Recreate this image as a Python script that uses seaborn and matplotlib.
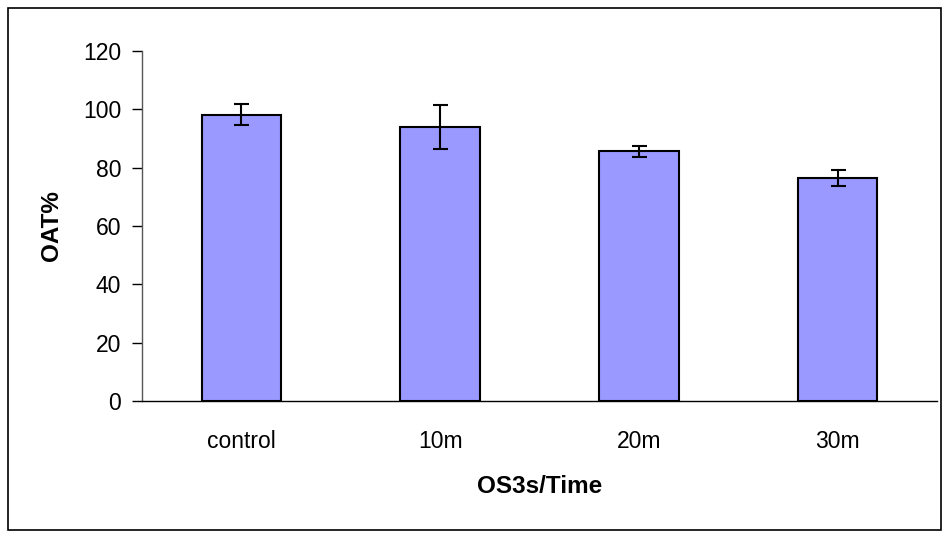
import matplotlib
matplotlib.use("Agg")
import matplotlib.pyplot as plt
import seaborn as sns
import pandas as pd
from matplotlib.patches import Rectangle

categories = ["control", "10m", "20m", "30m"]
values = [98.2, 93.9, 85.6, 76.5]
errors = [3.6, 7.5, 1.8, 2.8]
yticks = [0, 20, 40, 60, 80, 100, 120]

sns.set_style("white")
plt.rcParams['font.family'] = ['Liberation Sans', 'DejaVu Sans']
plt.rcParams['text.color'] = 'black'
plt.rcParams['axes.labelcolor'] = 'black'
plt.rcParams['xtick.color'] = 'black'
plt.rcParams['ytick.color'] = 'black'

df = pd.DataFrame({"cat": categories, "val": values, "err": errors})

fig = plt.figure(figsize=(9.44, 5.37), dpi=100)
ax = fig.add_axes([142/944, 1 - 401/537, (937-142)/944, (401-51)/537])

sns.barplot(data=df, x="cat", y="val", order=categories, color="#9999FF",
            saturation=1, width=0.4, edgecolor="black", linewidth=1.5,
            errorbar=None, ax=ax)
ax.errorbar(range(len(categories)), df["val"], yerr=df["err"], fmt="none",
            ecolor="black", elinewidth=1.5, capsize=5.4, capthick=1.5)

ax.set_xlim(-0.5, len(categories) - 0.5)
ax.set_ylim(0, 120)
ax.set_yticks(yticks)
ax.set_yticklabels([str(t) for t in yticks], fontsize=16.5)
ax.set_xticks(range(len(categories)))
ax.set_xticklabels(categories, fontsize=16.5)
ax.set_xticks([i - 0.5 for i in range(len(categories) + 1)], minor=True)
ax.tick_params(axis="x", which="major", length=0, pad=21)
ax.tick_params(axis="x", which="minor", length=7, width=1, color="black", direction="out")
ax.tick_params(axis="y", which="major", length=7, width=1, color="black", direction="out", pad=8, left=True)

ax.set_xlabel("OS3s/Time", fontsize=17.5, fontweight="bold", labelpad=16)
ax.set_ylabel("OAT%", fontsize=17.5, fontweight="bold", labelpad=14)

for s in ["top", "right"]:
    ax.spines[s].set_visible(False)
ax.spines["left"].set_color("#555555")
ax.spines["bottom"].set_color("black")
for s in ["left", "bottom"]:
    ax.spines[s].set_linewidth(1)

fig.patches.append(Rectangle((8/944, 1 - 530/537), (941-8)/944, (530-8)/537,
                             transform=fig.transFigure, fill=False,
                             edgecolor="black", linewidth=1.2))

fig.savefig("out.png", dpi=100)
